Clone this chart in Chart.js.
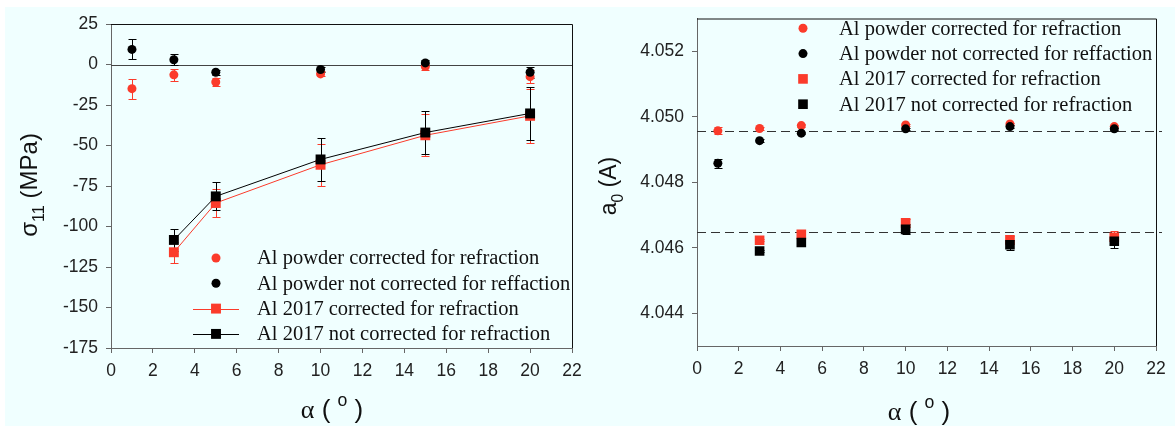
<!DOCTYPE html>
<html>
<head>
<meta charset="utf-8">
<script src="https://cdn.jsdelivr.net/npm/chart.js@4.4.1/dist/chart.umd.min.js"></script>
<style>
  html, body { margin: 0; padding: 0; background: #fff; }
  #panel { position: absolute; left: 5px; top: 7px; width: 1170px; height: 419px; background: #f0ffff; }
  canvas { position: absolute; top: 0; }
  #stress { left: 0; }
  #lattice { left: 590px; }
</style>
</head>
<body>
<div id="panel"></div>
<canvas id="stress" width="590" height="431"></canvas>
<canvas id="lattice" width="585" height="431"></canvas>
<script>
// tilt angles (deg)
const alphaPowder = [1, 3, 5, 10, 15, 20];
const alpha2017 = [3, 5, 10, 15, 20];

// sigma_11 (MPa) with +/- errors
const sigPowderCorr = [-14.9, -6.4, -10.8, -5.8, -1.2, -7.5];
const sigPowderCorrErr = [6.2, 3.5, 2.5, 1.5, 2.0, 4.0];
const sigPowderRaw = [9.3, 2.9, -4.8, -3.1, 1.0, -4.8];
const sigPowderRawErr = [6.2, 3.3, 1.5, 1.5, 1.5, 3.5];
const sig2017Corr = [-115.9, -85.5, -61.9, -43.7, -31.7];
const sig2017CorrErr = [6.4, 8.8, 13.0, 13.0, 16.5];
const sig2017Raw = [-108.3, -81.4, -58.6, -42.0, -30.2];
const sig2017RawErr = [6.6, 8.7, 13.4, 13.0, 16.2];

// lattice parameter a0 (A) with +/- errors
const a0PowderCorr = [4.04957, 4.04964, 4.04973, 4.04975, 4.04978, 4.04970];
const a0PowderCorrErr = [0.00011, 0.00004, 0.00004, 0.00004, 0.00004, 0.00004];
const a0PowderRaw = [4.04858, 4.04927, 4.04950, 4.04963, 4.04970, 4.04963];
const a0PowderRawErr = [0.00013, 0.00004, 0.00004, 0.00004, 0.00004, 0.00004];
const a02017Corr = [4.04623, 4.04641, 4.04676, 4.04624, 4.04632];
const a02017CorrErr = [0.00003, 0.00005, 0.00012, 0.00012, 0.00020];
const a02017Raw = [4.04590, 4.04616, 4.04656, 4.04609, 4.04620];
const a02017RawErr = [0.00003, 0.00004, 0.00015, 0.00015, 0.00020];
const a0RefLines = [4.04957, 4.04649];

const xTicks = [0, 2, 4, 6, 8, 10, 12, 14, 16, 18, 20, 22];
const sigTicks = [-175, -150, -125, -100, -75, -50, -25, 0, 25];
const a0Ticks = [4.044, 4.046, 4.048, 4.050, 4.052];

const labels = [
  'Al powder corrected for refraction',
  'Al powder not corrected for reffaction',
  'Al 2017 corrected for refraction',
  'Al 2017 not corrected for refraction'
];

const RED = '#fb3b2b';
const BLACK = '#000';
const SANS = '"Liberation Sans", Arial, sans-serif';
const SERIF = '"Liberation Serif", "Times New Roman", serif';

Chart.defaults.font.family = SANS;
Chart.defaults.color = '#222';

function pts(xs, ys) {
  return xs.map((x, i) => ({ x: x, y: ys[i] }));
}

// vertical error bars with caps, drawn under the markers
const errorBars = {
  id: 'errorBars',
  beforeDatasetsDraw(chart) {
    const { ctx, scales: { x, y } } = chart;
    ctx.save();
    ctx.lineWidth = 1;
    chart.data.datasets.slice().sort((a, b) => b.order - a.order).forEach(ds => {
      if (!ds.errors) return;
      ctx.strokeStyle = ds.borderColor;
      ds.data.forEach((p, i) => {
        const e = ds.errors[i];
        const px = Math.round(x.getPixelForValue(p.x)) + 0.5;
        const y1 = Math.round(y.getPixelForValue(p.y + e)) + 0.5;
        const y2 = Math.round(y.getPixelForValue(p.y - e)) + 0.5;
        ctx.beginPath();
        ctx.moveTo(px, y1); ctx.lineTo(px, y2);
        ctx.moveTo(px - 4, y1); ctx.lineTo(px + 4, y1);
        ctx.moveTo(px - 4, y2); ctx.lineTo(px + 4, y2);
        ctx.stroke();
      });
    });
    ctx.restore();
  }
};

// top/right frame plus horizontal reference lines
const frame = {
  id: 'frame',
  beforeDatasetsDraw(chart, args, opts) {
    const { ctx, chartArea: a, scales: { y } } = chart;
    ctx.save();
    ctx.lineWidth = 1;
    (opts.lines || []).forEach(l => {
      const py = Math.round(y.getPixelForValue(l.value)) + 0.5;
      ctx.strokeStyle = l.color;
      ctx.setLineDash(l.dash || []);
      ctx.beginPath();
      ctx.moveTo(a.left, py);
      ctx.lineTo(a.right + (l.over || 0), py);
      ctx.stroke();
    });
    ctx.setLineDash([]);
    ctx.strokeStyle = '#111';
    ctx.beginPath();
    ctx.moveTo(a.left, a.top + 0.5);
    ctx.lineTo(a.right + 0.5, a.top + 0.5);
    ctx.lineTo(a.right + 0.5, a.bottom);
    ctx.stroke();
    ctx.restore();
  }
};

// legend drawn inside the plot area
const keyBox = {
  id: 'keyBox',
  afterDatasetsDraw(chart, args, opts) {
    const ctx = chart.ctx;
    ctx.save();
    chart.data.datasets.forEach((ds, i) => {
      const y = opts.y + i * opts.step;
      const mx = opts.markerX;
      ctx.fillStyle = ds.backgroundColor;
      ctx.strokeStyle = ds.borderColor;
      ctx.lineWidth = 1;
      if (ds.showLine) {
        ctx.beginPath();
        ctx.moveTo(mx - 23, Math.round(y) + 0.5);
        ctx.lineTo(mx + 23, Math.round(y) + 0.5);
        ctx.stroke();
      }
      if (ds.pointStyle === 'rect') {
        const s = ds.pointRadius * Math.SQRT1_2;
        ctx.fillRect(mx - s, y - s, 2 * s, 2 * s);
      } else {
        ctx.beginPath();
        ctx.arc(mx, y, ds.pointRadius, 0, Math.PI * 2);
        ctx.fill();
      }
      ctx.fillStyle = '#111';
      ctx.font = '20.5px ' + SERIF;
      ctx.textBaseline = 'middle';
      ctx.fillText(ds.label, opts.textX, y + 1);
    });
    ctx.restore();
  }
};

// axis titles with sub/superscripts
const axisTitles = {
  id: 'axisTitles',
  afterDraw(chart, args, opts) {
    const ctx = chart.ctx;
    opts.items.forEach(t => {
      ctx.save();
      ctx.translate(t.x, t.y);
      if (t.rotate) ctx.rotate(-Math.PI / 2);
      let w = 0;
      const runs = t.parts.map(p => {
        const small = p.sub || p.sup;
        const font = (small ? t.size * 0.68 : t.size) + 'px ' + (p.family || SANS);
        ctx.font = font;
        const width = ctx.measureText(p.text).width;
        w += width;
        return { text: p.text, font: font, width: width,
                 dy: p.sub ? t.size * 0.3 : (p.sup ? -t.size * 0.45 : 0) };
      });
      let cx = -w / 2;
      ctx.fillStyle = '#111';
      ctx.textBaseline = 'alphabetic';
      runs.forEach(r => {
        ctx.font = r.font;
        ctx.fillText(r.text, cx, r.dy);
        cx += r.width;
      });
      ctx.restore();
    });
  }
};

function xScale(height) {
  return {
    type: 'linear', min: 0, max: 22,
    afterBuildTicks: s => { s.ticks = xTicks.map(v => ({ value: v })); },
    afterFit: s => { s.height = height; },
    ticks: { font: { size: 17.5 }, padding: 8, maxRotation: 0 },
    grid: { drawOnChartArea: false, tickLength: 5, color: '#666' },
    border: { color: '#666' }
  };
}

function yScale(min, max, tickVals, width, fmt) {
  return {
    type: 'linear', min: min, max: max,
    afterBuildTicks: s => { s.ticks = tickVals.map(v => ({ value: v })); },
    afterFit: s => { s.width = width; },
    ticks: { font: { size: 17.5 }, padding: 8, callback: fmt },
    grid: { drawOnChartArea: false, tickLength: 5, color: '#666' },
    border: { color: '#666' }
  };
}

function series(label, data, errs, color, style, radius, line, order) {
  return {
    label: label, data: data, errors: errs,
    backgroundColor: color, borderColor: color,
    pointStyle: style, pointRadius: radius, pointHoverRadius: radius,
    pointBorderWidth: 0, borderWidth: 1,
    showLine: line, order: order
  };
}

new Chart(document.getElementById('stress'), {
  type: 'scatter',
  data: {
    datasets: [
      series(labels[0], pts(alphaPowder, sigPowderCorr), sigPowderCorrErr, RED, 'circle', 4.5, false, 4),
      series(labels[1], pts(alphaPowder, sigPowderRaw), sigPowderRawErr, BLACK, 'circle', 4.5, false, 3),
      series(labels[2], pts(alpha2017, sig2017Corr), sig2017CorrErr, RED, 'rect', 7, true, 2),
      series(labels[3], pts(alpha2017, sig2017Raw), sig2017RawErr, BLACK, 'rect', 7, true, 1)
    ]
  },
  options: {
    responsive: false,
    animation: false,
    devicePixelRatio: 1,
    layout: { padding: { left: 0, top: 24, right: 18, bottom: 0 } },
    scales: {
      x: xScale(83),
      y: yScale(-175, 25, sigTicks, 111, v => v)
    },
    plugins: {
      legend: { display: false },
      tooltip: { enabled: false },
      frame: { lines: [{ value: 0, color: '#444' }] },
      keyBox: { markerX: 216, textX: 257, y: 258, step: 25.3 },
      axisTitles: {
        items: [
          { x: 37, y: 185, rotate: true, size: 24,
            parts: [{ text: 'σ' }, { text: '11', sub: true }, { text: ' (MPa)' }] },
          { x: 332, y: 418, size: 26,
            parts: [{ text: 'α', family: SERIF }, { text: ' ( ' }, { text: 'o', sup: true }, { text: ' )' }] }
        ]
      }
    }
  },
  plugins: [frame, errorBars, keyBox, axisTitles]
});

new Chart(document.getElementById('lattice'), {
  type: 'scatter',
  data: {
    datasets: [
      series(labels[0], pts(alphaPowder, a0PowderCorr), a0PowderCorrErr, RED, 'circle', 4.5, false, 4),
      series(labels[1], pts(alphaPowder, a0PowderRaw), a0PowderRawErr, BLACK, 'circle', 4.5, false, 3),
      series(labels[2], pts(alpha2017, a02017Corr), a02017CorrErr, RED, 'rect', 6.8, false, 2),
      series(labels[3], pts(alpha2017, a02017Raw), a02017RawErr, BLACK, 'rect', 6.8, false, 1)
    ]
  },
  options: {
    responsive: false,
    animation: false,
    devicePixelRatio: 1,
    layout: { padding: { left: 0, top: 16, right: 19, bottom: 0 } },
    scales: {
      x: xScale(85),
      y: yScale(4.043, 4.053, a0Ticks, 107, v => v.toFixed(3))
    },
    plugins: {
      legend: { display: false },
      tooltip: { enabled: false },
      frame: { lines: a0RefLines.map(v => ({ value: v, color: '#333', dash: [9, 5], over: 6 })) },
      keyBox: { markerX: 213, textX: 249, y: 28.3, step: 25.3 },
      axisTitles: {
        items: [
          { x: 26, y: 186, rotate: true, size: 23,
            parts: [{ text: 'a' }, { text: '0', sub: true }, { text: ' (A)' }] },
          { x: 329, y: 420, size: 26,
            parts: [{ text: 'α', family: SERIF }, { text: ' ( ' }, { text: 'o', sup: true }, { text: ' )' }] }
        ]
      }
    }
  },
  plugins: [frame, errorBars, keyBox, axisTitles]
});
</script>
</body>
</html>
